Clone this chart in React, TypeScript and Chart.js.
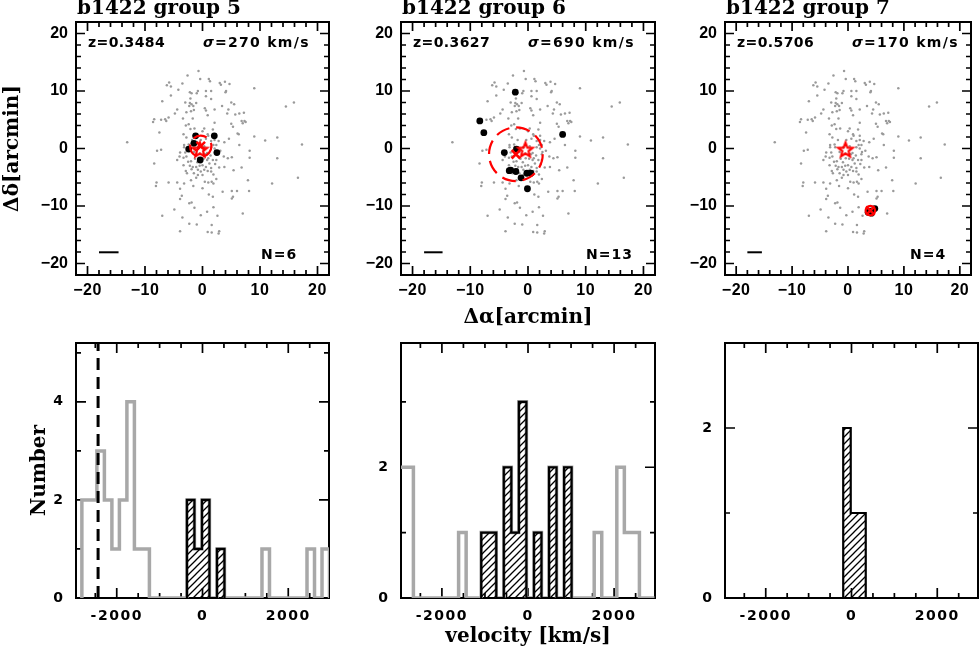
import React, { useEffect, useRef } from "react";
import { Chart, registerables } from "chart.js";

Chart.register(...registerables);

const W = 980;
const H = 653;

// ---------- field galaxies (arcmin offsets), same in all three sky panels ----------
const FIELD: [number, number][] = [
  [-0.7, 13.5], [-2.6, 12.7], [-0.4, 12.1], [1.1, 12.1], [1.3, 11.7], [-3.5, 11.3], [-5.8, 11.5], [-6.2, 11.0],
  [-5.5, 10.8], [3.0, 11.4], [3.9, 11.6], [3.2, 11.1], [4.7, 11.2], [9.0, 10.5], [-4.2, 10.2], [4.1, 10.0],
  [4.0, 9.8], [-2.2, 9.8], [-1.9, 9.6], [-0.8, 10.0], [-1.0, 9.6], [0.6, 10.0], [1.5, 10.0], [-5.5, 9.2],
  [0.6, 9.1], [1.5, 8.6], [-2.1, 8.7], [-7.0, 8.2], [-3.0, 8.0], [-2.2, 7.9], [-1.9, 7.7], [-2.3, 7.4],
  [-1.6, 7.4], [-1.1, 7.9], [5.0, 8.0], [5.5, 7.7], [3.4, 7.4], [15.9, 8.0], [14.5, 7.3], [-4.4, 6.8],
  [0.4, 7.0], [0.6, 6.6], [2.1, 6.8], [-1.5, 6.7], [-2.0, 6.5], [4.5, 6.8], [-2.8, 6.3], [-4.8, 6.1],
  [4.3, 6.1], [5.7, 5.9], [6.4, 6.1], [7.2, 6.2], [0.9, 5.8], [-8.4, 5.1], [-8.6, 4.6], [-7.2, 5.0],
  [-6.5, 5.1], [-6.3, 4.8], [-5.9, 5.4], [-3.4, 5.2], [-1.7, 5.2], [6.8, 4.8], [7.3, 4.8], [7.0, 4.4],
  [7.5, 4.6], [2.1, 4.5], [5.0, 4.3], [5.3, 3.8], [-2.4, 4.2], [-2.9, 4.0], [-2.1, 3.4], [-1.4, 3.5],
  [1.8, 3.3], [0.0, 3.0], [0.3, 3.5], [-7.5, 2.8], [6.1, 2.6], [6.3, 2.5], [-3.3, 2.5], [0.9, 2.5],
  [1.0, 2.2], [2.1, 2.2], [9.0, 2.1], [13.0, 1.9], [10.9, 1.4], [-13.1, 1.1], [-2.8, 1.9], [-1.8, 1.5],
  [-0.3, 1.5], [0.6, 1.7], [2.1, 1.5], [2.8, 1.3], [3.8, 1.1], [4.6, 1.7], [1.5, 1.3], [-3.2, 0.6],
  [-2.4, 0.7], [-2.3, 0.2], [-0.8, 0.2], [0.3, 0.4], [1.9, 0.6], [2.4, 0.6], [1.5, 0.2], [2.1, 0.0],
  [-7.2, -0.2], [6.4, 0.6], [-3.2, 0.2], [17.3, 0.7],
  [-7.9, -0.4], [-3.9, -0.7], [-3.0, -0.7], [-4.0, -1.4], [-3.3, -1.6], [-2.8, -1.4], [-4.4, -2.0], [-8.4, -2.6],
  [-3.3, -2.9], [-2.5, -2.3], [-2.0, -2.2], [-1.3, -1.8], [-0.4, -1.7], [0.2, -1.8], [0.8, -2.0], [1.8, -2.0],
  [2.4, -2.0], [1.0, -1.7], [2.5, -0.6], [3.1, -0.4], [2.4, -1.0], [3.7, -1.4], [4.4, -1.7], [5.1, -1.5],
  [8.2, -0.4], [8.2, -1.6], [13.0, -1.7], [-2.2, -3.0], [-1.7, -3.2], [-1.1, -3.2], [-0.5, -3.0], [0.0, -2.9],
  [0.6, -3.2], [1.5, -3.4], [2.9, -3.3], [3.8, -3.2], [-0.8, -3.7], [-0.3, -4.0], [0.3, -3.7], [0.9, -3.9],
  [1.5, -4.0], [-2.9, -3.9], [-2.7, -4.3], [-1.5, -4.3], [-0.8, -4.6], [0.0, -4.6], [-1.1, -5.1], [6.8, -3.3],
  [5.4, -3.8], [7.9, -5.5], [12.1, -6.1], [16.6, -5.1], [-8.0, -5.9], [-5.9, -5.9], [-8.1, -6.5], [-4.4, -5.9],
  [-3.2, -6.1], [0.4, -5.8], [1.0, -5.9], [1.6, -5.8], [1.9, -6.1], [-1.6, -6.5], [0.0, -6.9], [-3.9, -7.0],
  [3.5, -7.5], [5.1, -7.4], [6.0, -7.4], [8.1, -7.4], [1.1, -8.0], [1.8, -8.4], [-3.6, -8.2], [-3.9, -8.8],
  [5.3, -8.4], [5.1, -8.7], [-1.9, -9.4], [-2.3, -9.5], [-1.4, -10.3], [1.9, -10.2], [-4.9, -10.6], [0.8, -11.0],
  [-7.0, -11.7], [-3.5, -12.0], [-0.3, -11.6], [2.6, -11.7], [7.0, -11.3], [-2.3, -13.1], [-1.0, -13.2], [1.6, -13.3],
  [-3.9, -14.4], [0.9, -14.5], [1.6, -14.6], [2.9, -14.4], [2.8, -14.8],
  [-1.5, -0.6], [0.8, -0.8], [1.4, -1.2], [-0.9, -2.4], [1.2, -2.6], [-1.9, -3.6], [2.2, -2.7], [0.5, -1.0],
  [-0.5, -0.9], [1.9, -4.5], [-2.0, -5.5], [2.4, -5.3],
];

// ---------- group annotations ----------
const TITLES = ["b1422 group 5", "b1422 group 6", "b1422 group 7"];
const Z_TEXT = ["z=0.3484", "z=0.3627", "z=0.5706"];
const SIGMA_TEXT = ["=270 km/s", "=690 km/s", "=170 km/s"];
const N_TEXT = ["N=6", "N=13", "N=4"];

const MEMBERS_X = [
  [-1.2, 2.05, -1.5, -2.4, 2.5, -0.4],
  [-2.2, -8.35, -7.65, 6.0, -4.1, -2.0, -3.25, -2.1, -0.2, 0.5, -1.2, -0.1, -3.0],
  [4.8, 4.0, 3.6, 4.2],
];
const MEMBERS_Y = [
  [2.2, 2.2, 0.9, -0.1, -0.7, -2.0],
  [9.8, 4.8, 2.75, 2.45, -0.7, -0.1, -3.85, -4.0, -4.3, -4.3, -5.1, -7.0, -3.75],
  [-10.45, -10.9, -11.1, -11.25],
];
const STAR_X = -0.45;
const STAR_Y = -0.3;
const CENTER_X = [-0.3, -2.1, 4.0];
const CENTER_Y = [0.4, -1.0, -10.8];
const RADIUS = [1.85, 4.65, 0.85];
const SCALEBAR_X0 = -18;
const SCALEBAR_X1 = [-14.6, -14.8, -15.4];
const SCALEBAR_Y = -18.05;

const POS_MIN = -22;
const POS_MAX = 22;
const POS_MAJOR = [-20, -10, 0, 10, 20];
const POS_MINOR = [-18, -16, -14, -12, -8, -6, -4, -2, 2, 4, 6, 8, 12, 14, 16, 18];

// ---------- velocity histograms ----------
const VEL_MIN = -2950;
const VEL_MAX = 2950;
const VEL_MAJOR = [-2000, 0, 2000];
const VEL_MINOR = [-2500, -1500, -1000, -500, 500, 1000, 1500, 2500];
const BIN_W = 175;
const ALL_START = [-2813, -3012, 0];
const ALL_COUNTS = [
  [2, 2, 3, 2, 1, 2, 4, 1, 1, 0, 0, 0, 0, 0, 2, 1, 2, 0, 1, 0, 0, 0, 0, 0, 1, 0, 0, 0, 0, 0, 1, 0, 1],
  [2, 2, 0, 0, 0, 0, 0, 0, 1, 0, 0, 1, 1, 0, 2, 1, 3, 0, 1, 0, 2, 0, 2, 0, 0, 0, 1, 0, 0, 2, 1, 1, 0, 0],
  [],
];
const MEM_START = [-363, -1087, -193];
const MEM_COUNTS = [
  [2, 1, 2, 0, 1],
  [1, 1, 0, 2, 1, 3, 0, 1, 0, 2, 0, 2],
  [2, 1, 1],
];
const VLINE_V = -2435;
const NUM_MAX = [5.2, 3.9, 3.0];
const NUM_MAJOR = [[0, 2, 4], [0, 2], [0, 2]];
const NUM_MINOR = [[1, 3, 5], [1, 3], [1]];

// ---------- layout ----------
const FRAME_L = [76, 401, 725];
const FRAME_R = [329, 655, 978];
const TOP_T = 22;
const TOP_B = 275;
const BOT_T = 343;
const BOT_B = 598;

const SERIF = "bold 20px 'DejaVu Serif'";

function makeStar(): HTMLCanvasElement {
  const c = document.createElement("canvas");
  c.width = 22;
  c.height = 22;
  const g = c.getContext("2d")!;
  const R = 7.6;
  const r = 3.3;
  g.strokeStyle = "#ff0000";
  g.lineWidth = 2.2;
  g.lineJoin = "miter";
  g.beginPath();
  for (let i = 0; i < 10; i++) {
    const a = -Math.PI / 2 + (i * Math.PI) / 5;
    const rad = i % 2 === 0 ? R : r;
    const px = 11 + rad * Math.cos(a);
    const py = 11 + rad * Math.sin(a);
    if (i === 0) g.moveTo(px, py);
    else g.lineTo(px, py);
  }
  g.closePath();
  g.stroke();
  return c;
}

function makeHatch(): HTMLCanvasElement {
  const s = 7;
  const c = document.createElement("canvas");
  c.width = s;
  c.height = s;
  const g = c.getContext("2d")!;
  g.strokeStyle = "#000";
  g.lineWidth = 1.3;
  g.beginPath();
  g.moveTo(-1, s + 1);
  g.lineTo(s + 1, -1);
  g.moveTo(-1, 1);
  g.lineTo(1, -1);
  g.moveTo(s - 1, s + 1);
  g.lineTo(s + 1, s - 1);
  g.stroke();
  return c;
}

type AxisSpec = {
  xMajor: number[];
  xMinor: number[];
  yMajor: number[];
  yMinor: number[];
  yLabels: number[];
  majLen: number;
  minLen: number;
  font: string;
  spacing: string;
  minus: string;
  xLabelDy: number;
  yLabelDx: number;
};

function fmt(v: number, minus: string) {
  return v < 0 ? minus + String(Math.abs(v)) : String(v);
}

function drawAxes(chart: any, s: AxisSpec) {
  const { ctx, chartArea: a, scales } = chart;
  const xs = scales.x;
  const ys = scales.y;
  ctx.save();
  ctx.strokeStyle = "#000";
  ctx.lineWidth = 2;
  ctx.strokeRect(a.left, a.top, a.right - a.left, a.bottom - a.top);
  ctx.lineWidth = 1.7;
  ctx.beginPath();
  const xt = (v: number, len: number) => {
    const p = xs.getPixelForValue(v);
    ctx.moveTo(p, a.bottom);
    ctx.lineTo(p, a.bottom - len);
    ctx.moveTo(p, a.top);
    ctx.lineTo(p, a.top + len);
  };
  const yt = (v: number, len: number) => {
    const p = ys.getPixelForValue(v);
    ctx.moveTo(a.left, p);
    ctx.lineTo(a.left + len, p);
    ctx.moveTo(a.right, p);
    ctx.lineTo(a.right - len, p);
  };
  s.xMajor.forEach((v) => xt(v, s.majLen));
  s.xMinor.forEach((v) => xt(v, s.minLen));
  s.yMajor.forEach((v) => yt(v, s.majLen));
  s.yMinor.forEach((v) => yt(v, s.minLen));
  ctx.stroke();

  ctx.fillStyle = "#000";
  ctx.font = s.font;
  (ctx as any).letterSpacing = s.spacing;
  ctx.textAlign = "center";
  ctx.textBaseline = "alphabetic";
  s.xMajor.forEach((v) => {
    ctx.fillText(fmt(v, s.minus), xs.getPixelForValue(v), a.bottom + s.xLabelDy);
  });
  (ctx as any).letterSpacing = "0px";
  ctx.textAlign = "right";
  ctx.textBaseline = "middle";
  s.yLabels.forEach((v) => {
    ctx.fillText(fmt(v, s.minus), a.left - s.yLabelDx, ys.getPixelForValue(v));
  });
  ctx.restore();
}

function topConfig(i: number, star: HTMLCanvasElement): any {
  const L = FRAME_L[i];
  const R = FRAME_R[i];
  const members = MEMBERS_X[i].map((x, k) => ({ x, y: MEMBERS_Y[i][k] }));
  const axis: AxisSpec = {
    xMajor: POS_MAJOR,
    xMinor: POS_MINOR,
    yMajor: POS_MAJOR,
    yMinor: POS_MINOR,
    yLabels: POS_MAJOR,
    majLen: 9,
    minLen: 5,
    font: "bold 16px 'Liberation Sans'",
    spacing: "0.5px",
    minus: "\u2212",
    xLabelDy: 20,
    yLabelDx: 8,
  };
  return {
    type: "scatter",
    data: {
      datasets: [
        {
          type: "scatter",
          data: FIELD.map(([x, y]) => ({ x, y })),
          pointRadius: 1.25,
          pointBackgroundColor: "#9a9a9a",
          pointBorderWidth: 0,
          order: 6,
        },
        {
          type: "line",
          data: [
            { x: SCALEBAR_X0, y: SCALEBAR_Y },
            { x: SCALEBAR_X1[i], y: SCALEBAR_Y },
          ],
          borderColor: "#000",
          borderWidth: 2,
          pointRadius: 0,
          order: 5,
        },
        {
          type: "scatter",
          data: members,
          pointRadius: 3.4,
          pointBackgroundColor: "#000",
          pointBorderWidth: 0,
          order: 4,
        },
        {
          type: "scatter",
          data: [{ x: CENTER_X[i], y: CENTER_Y[i] }],
          pointStyle: "crossRot",
          pointRadius: 6,
          pointBorderColor: "#ff0000",
          pointBorderWidth: 2.5,
          order: 2,
        },
        {
          type: "scatter",
          data: [{ x: STAR_X, y: STAR_Y }],
          pointStyle: star,
          pointRadius: 8,
          order: 1,
        },
      ],
    },
    options: {
      responsive: false,
      animation: false,
      events: [],
      layout: { padding: { left: L, right: W - R, top: TOP_T, bottom: H - TOP_B } },
      plugins: { legend: { display: false }, tooltip: { enabled: false } },
      scales: {
        x: { type: "linear", min: POS_MIN, max: POS_MAX, display: false },
        y: { type: "linear", min: POS_MIN, max: POS_MAX, display: false },
      },
    },
    plugins: [
      {
        id: "skyDeco" + i,
        beforeDatasetsDraw(chart: any) {
          drawAxes(chart, axis);
        },
        afterDatasetDraw(chart: any, args: any) {
          if (args.index !== 2) return;
          const { ctx } = chart;
          const xs = chart.scales.x;
          const ys = chart.scales.y;
          const cx = xs.getPixelForValue(CENTER_X[i]);
          const cy = ys.getPixelForValue(CENTER_Y[i]);
          const rp = Math.abs(xs.getPixelForValue(CENTER_X[i] + RADIUS[i]) - cx);
          ctx.save();
          ctx.strokeStyle = "#ff0000";
          ctx.lineWidth = 2.2;
          ctx.setLineDash(i === 2 ? [] : [14, 7]);
          ctx.beginPath();
          ctx.arc(cx, cy, rp, 0, Math.PI * 2);
          ctx.stroke();
          ctx.restore();
        },
        afterDraw(chart: any) {
          const { ctx, chartArea: a } = chart;
          ctx.save();
          ctx.fillStyle = "#000";
          ctx.textAlign = "left";
          ctx.textBaseline = "alphabetic";
          ctx.font = SERIF;
          ctx.fillText(TITLES[i], a.left + 1, 14);
          ctx.font = "bold 14px 'DejaVu Sans'";
          (ctx as any).letterSpacing = "0.4px";
          ctx.fillText(Z_TEXT[i], a.left + 12, 47);
          (ctx as any).letterSpacing = "1px";
          ctx.fillText(N_TEXT[i], a.left + 185, 259);
          ctx.font = "italic bold 14px 'DejaVu Sans'";
          ctx.fillText("\u03c3", a.left + 127, 47);
          const sw = ctx.measureText("\u03c3").width;
          ctx.font = "bold 14px 'DejaVu Sans'";
          (ctx as any).letterSpacing = "1.3px";
          ctx.fillText(SIGMA_TEXT[i], a.left + 127 + sw, 47);
          (ctx as any).letterSpacing = "0px";
          ctx.font = SERIF;
          if (i === 0) {
            ctx.save();
            ctx.translate(13, (a.top + a.bottom) / 2);
            ctx.rotate(-Math.PI / 2);
            ctx.textAlign = "center";
            ctx.textBaseline = "middle";
            ctx.fillText("\u0394\u03b4[arcmin]", 0, 0);
            ctx.restore();
          }
          if (i === 1) {
            ctx.textAlign = "center";
            ctx.fillText("\u0394\u03b1[arcmin]", (a.left + a.right) / 2, 323);
          }
          ctx.restore();
        },
      },
    ],
  };
}

function histPoints(start: number, counts: number[]) {
  const pts = [{ x: start, y: 0 }];
  counts.forEach((c, k) => pts.push({ x: start + k * BIN_W, y: c }));
  pts.push({ x: start + counts.length * BIN_W, y: 0 });
  return pts;
}

function bottomConfig(i: number, pattern: CanvasPattern | null): any {
  const L = FRAME_L[i];
  const R = FRAME_R[i];
  const axis: AxisSpec = {
    xMajor: VEL_MAJOR,
    xMinor: VEL_MINOR,
    yMajor: NUM_MAJOR[i],
    yMinor: NUM_MINOR[i],
    yLabels: NUM_MAJOR[i],
    majLen: 10,
    minLen: 5,
    font: "bold 14px 'DejaVu Sans'",
    spacing: "1.5px",
    minus: "-",
    xLabelDy: 22,
    yLabelDx: 13,
  };
  const datasets: any[] = [];
  if (ALL_COUNTS[i].length) {
    datasets.push({
      type: "line",
      data: histPoints(ALL_START[i], ALL_COUNTS[i]),
      stepped: "before",
      borderColor: "#a8a8a8",
      borderWidth: 3.5,
      pointRadius: 0,
      fill: false,
      order: 3,
    });
  }
  datasets.push({
    type: "line",
    data: histPoints(MEM_START[i], MEM_COUNTS[i]),
    stepped: "before",
    borderColor: "#000",
    borderWidth: 2.2,
    backgroundColor: pattern,
    fill: "origin",
    pointRadius: 0,
    order: 2,
  });
  if (i === 0) {
    datasets.push({
      type: "line",
      data: [
        { x: VLINE_V, y: 0 },
        { x: VLINE_V, y: NUM_MAX[0] },
      ],
      borderColor: "#000",
      borderWidth: 3,
      borderDash: [12, 7],
      pointRadius: 0,
      fill: false,
      order: 1,
    });
  }
  return {
    type: "line",
    data: { datasets },
    options: {
      responsive: false,
      animation: false,
      events: [],
      layout: { padding: { left: L, right: W - R, top: BOT_T, bottom: H - BOT_B } },
      plugins: { legend: { display: false }, tooltip: { enabled: false } },
      scales: {
        x: { type: "linear", min: VEL_MIN, max: VEL_MAX, display: false },
        y: { type: "linear", min: 0, max: NUM_MAX[i], display: false },
      },
    },
    plugins: [
      {
        id: "histDeco" + i,
        beforeDatasetsDraw(chart: any) {
          drawAxes(chart, axis);
        },
        afterDraw(chart: any) {
          const { ctx, chartArea: a } = chart;
          ctx.save();
          ctx.fillStyle = "#000";
          ctx.font = SERIF;
          if (i === 0) {
            ctx.translate(40, (a.top + a.bottom) / 2);
            ctx.rotate(-Math.PI / 2);
            ctx.textAlign = "center";
            ctx.textBaseline = "middle";
            ctx.fillText("Number", 0, 0);
          }
          if (i === 1) {
            ctx.textAlign = "center";
            ctx.textBaseline = "alphabetic";
            ctx.fillText("velocity [km/s]", (a.left + a.right) / 2, 642);
          }
          ctx.restore();
        },
      },
    ],
  };
}

export default function App() {
  const refs = useRef<(HTMLCanvasElement | null)[]>([]);
  useEffect(() => {
    const star = makeStar();
    const hatch = makeHatch();
    const charts: Chart[] = [];
    for (let i = 0; i < 3; i++) {
      const c = refs.current[i];
      if (c) charts.push(new Chart(c, topConfig(i, star)));
    }
    for (let i = 0; i < 3; i++) {
      const c = refs.current[3 + i];
      if (!c) continue;
      const pattern = c.getContext("2d")!.createPattern(hatch, "repeat");
      charts.push(new Chart(c, bottomConfig(i, pattern)));
    }
    return () => charts.forEach((ch) => ch.destroy());
  }, []);
  return (
    <div
      style={{ position: "absolute", left: 0, top: 0, width: W, height: H, background: "#fff", overflow: "hidden" }}
    >
      {[0, 1, 2, 3, 4, 5].map((k) => (
        <canvas
          key={k}
          ref={(el) => {
            refs.current[k] = el;
          }}
          width={W}
          height={H}
          style={{ position: "absolute", left: 0, top: 0, width: W, height: H }}
        />
      ))}
    </div>
  );
}
